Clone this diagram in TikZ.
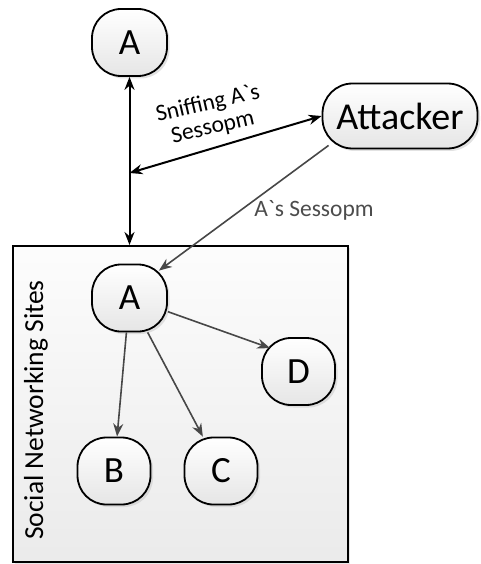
\documentclass[tikz,border=0pt]{standalone}
\usepackage{fontspec}
\setmainfont{Carlito}[Ligatures=TeXOff]
\usetikzlibrary{arrows.meta,shadows,calc}
\begin{document}
\begin{tikzpicture}[x=1pt,y=-1pt,
  nd/.style={draw=black, line width=1.8pt, rounded corners=29pt,
    minimum width=75pt, minimum height=67pt, inner sep=0pt,
    top color=white, bottom color=gray!20,
    drop shadow={shadow xshift=2.5pt,shadow yshift=-2.5pt,fill=gray!45},
    font=\fontsize{37}{42}\selectfont},
  sitebox/.style={draw=black, line width=1.8pt, minimum width=335pt,
    minimum height=316pt, inner sep=0pt, top color=gray!2, bottom color=gray!16,
    drop shadow={shadow xshift=2pt,shadow yshift=-2pt,fill=gray!35}},
  blk/.style={line width=2pt, draw=black},
  gry/.style={line width=1.6pt, draw=black!72,
    -{Stealth[length=13pt,width=10pt]}},
  tip/.tip={Stealth[length=13pt,width=10pt]},
  lbl/.style={font=\fontsize{23.5}{26}\selectfont, inner sep=0pt}]
\useasboundingbox (0,0) rectangle (480,564);
% container
\node[sitebox] (sns) at (180.5,404) {};
\node[rotate=90, font=\fontsize{27.5}{30}\selectfont, inner sep=0pt] (sntext) at (36,410) {Social Networking Sites};
% nodes
\node[nd] (a1) at (129.5,42.5) {A};
\node[nd, minimum width=155pt, minimum height=65pt, rounded corners=30pt, font=\fontsize{38}{42}\selectfont] (att) at (400,116) {Attacker};
\node[nd] (a2) at (129.5,298) {A};
\node[nd, minimum width=73pt] (d) at (298.5,371.5) {D};
\node[nd, minimum width=73pt] (b) at (114,471) {B};
\node[nd, minimum width=73pt] (c) at (221,471) {C};
% outer connectors
\coordinate (j) at (129.5,173);
\coordinate (bt) at (129.5,245);
\draw[blk, tip-tip] (a1) -- (bt);
\draw[blk, tip-tip] (j) -- (att.west);
\draw[gry] ($(att.south west)+(7,-4)$) -- ($(a2.north east)+(-9,7)$);
% inner connectors
\draw[gry] (a2) -- ($(d.north west)+(9,11)$);
\draw[gry] (a2) -- (b);
\draw[gry] (a2) -- (c);
% labels
\node[lbl, rotate=13] (l1a) at (208,104) {Sniffing A`s};
\node[lbl, rotate=13] (l1b) at (213,128) {Sessopm};
\node[lbl, text=black!70] (l2) at (314,210) {A`s Sessopm};
\end{tikzpicture}
\end{document}
